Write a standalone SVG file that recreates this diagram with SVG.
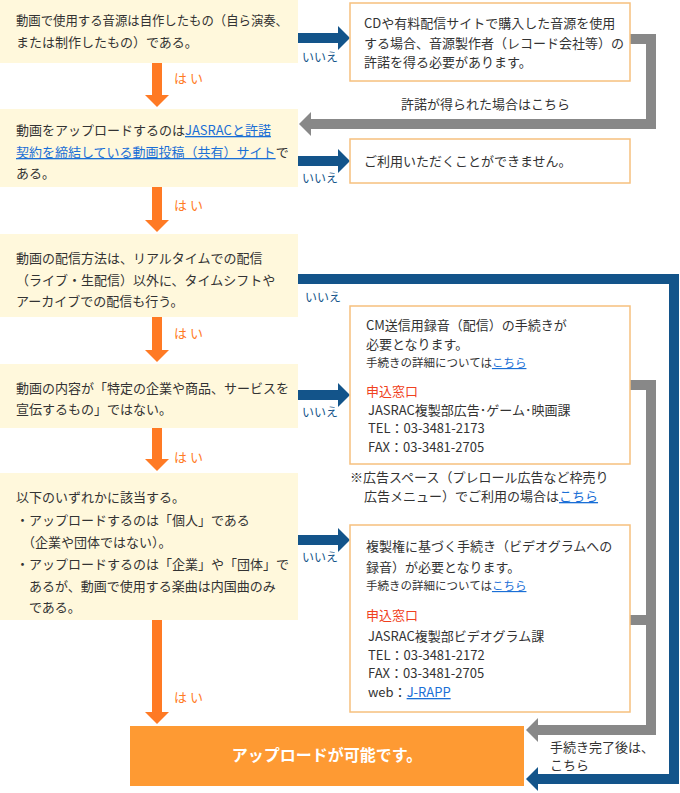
<svg xmlns="http://www.w3.org/2000/svg" width="680" height="793" viewBox="0 0 680 793">
<style>
.t{font-family:"Noto Sans CJK JP","Noto Sans",sans-serif;font-size:13px;fill:#333}
.s{font-size:11.5px}
.lk{fill:#1a6fd6;text-decoration:underline}
.red{fill:#f04020}
.yes{font-family:"Noto Sans CJK JP","Noto Sans",sans-serif;font-size:13px;fill:#ff7a24}
.no{font-family:"Noto Sans CJK JP","Noto Sans",sans-serif;font-size:12px;fill:#13548a}
.q{fill:#fff8dc}
.r{fill:#fff;stroke:#f6c07e;stroke-width:1.5}
.ao{fill:none;stroke:#ff7a24;stroke-width:10}
.an{fill:none;stroke:#13548a;stroke-width:10}
.ag{fill:none;stroke:#888;stroke-width:10}
</style>
<defs>
<marker id="ho" viewBox="0 0 12 24" markerWidth="12" markerHeight="24" refX="0" refY="12" orient="auto" markerUnits="userSpaceOnUse"><path d="M0,0 L12,12 L0,24 Z" fill="#ff7a24"/></marker>
<marker id="hn" viewBox="0 0 12 24" markerWidth="12" markerHeight="24" refX="0" refY="12" orient="auto" markerUnits="userSpaceOnUse"><path d="M0,0 L12,12 L0,24 Z" fill="#13548a"/></marker>
<marker id="hg" viewBox="0 0 12 24" markerWidth="12" markerHeight="24" refX="0" refY="12" orient="auto" markerUnits="userSpaceOnUse"><path d="M0,0 L12,12 L0,24 Z" fill="#888"/></marker>
</defs>

<g id="connectors">
<path class="ao" d="M157,63 V95" marker-end="url(#ho)"/>
<path class="ao" d="M157,187 V220" marker-end="url(#ho)"/>
<path class="ao" d="M157,317 V350" marker-end="url(#ho)"/>
<path class="ao" d="M157,428 V459" marker-end="url(#ho)"/>
<path class="ao" d="M157,620 V712" marker-end="url(#ho)"/>
<path class="an" d="M298,38 H338" marker-end="url(#hn)"/>
<path class="an" d="M298,161 H338" marker-end="url(#hn)"/>
<path class="an" d="M298,395 H338" marker-end="url(#hn)"/>
<path class="an" d="M298,540 H338" marker-end="url(#hn)"/>
<path class="an" d="M298,279 H674 V779 H538" marker-end="url(#hn)"/>
<path class="ag" d="M630,39 H651 V124 H311" marker-end="url(#hg)"/>
<path class="ag" d="M630,385 H651 V730 H538" marker-end="url(#hg)"/>
<path class="ag" d="M630,620 H651"/>
<text class="yes" x="174" y="83">は い</text>
<text class="yes" x="174" y="210">は い</text>
<text class="yes" x="174" y="338">は い</text>
<text class="yes" x="174" y="462">は い</text>
<text class="yes" x="174" y="702">は い</text>
<text class="no" x="302" y="62">いいえ</text>
<text class="no" x="302" y="183">いいえ</text>
<text class="no" x="305" y="302">いいえ</text>
<text class="no" x="302" y="417">いいえ</text>
<text class="no" x="302" y="562">いいえ</text>
<text class="t" x="401" y="109">許諾が得られた場合はこちら</text>
<text class="t" x="550" y="752">手続き完了後は、</text>
<text class="t" x="550" y="770">こちら</text>
</g>

<g id="q1">
<rect class="q" x="0" y="0" width="298" height="63"/>
<text class="t" x="16" y="25" textLength="272" lengthAdjust="spacingAndGlyphs">動画で使用する音源は自作したもの（自ら演奏、</text>
<text class="t" x="16" y="47">または制作したもの）である。</text>
</g>

<g id="q2">
<rect class="q" x="0" y="109" width="298" height="78"/>
<text class="t" x="16" y="135">動画をアップロードするのは<tspan class="lk">JASRACと許諾</tspan></text>
<text class="t" x="16" y="157"><tspan class="lk">契約を締結している動画投稿（共有）サイト</tspan>で</text>
<text class="t" x="16" y="178">ある。</text>
</g>

<g id="q3">
<rect class="q" x="0" y="234" width="298" height="83"/>
<text class="t" x="16" y="263">動画の配信方法は、リアルタイムでの配信</text>
<text class="t" x="16" y="285">（ライブ・生配信）以外に、タイムシフトや</text>
<text class="t" x="16" y="306">アーカイブでの配信も行う。</text>
</g>

<g id="q4">
<rect class="q" x="0" y="364" width="298" height="64"/>
<text class="t" x="16" y="393">動画の内容が「特定の企業や商品、サービスを</text>
<text class="t" x="16" y="414">宣伝するもの」ではない。</text>
</g>

<g id="q5">
<rect class="q" x="0" y="473" width="298" height="147"/>
<text class="t" x="16" y="502">以下のいずれかに該当する。</text>
<text class="t" x="16" y="525">・アップロードするのは「個人」である</text>
<text class="t" x="22" y="547">（企業や団体ではない）。</text>
<text class="t" x="16" y="569">・アップロードするのは「企業」や「団体」で</text>
<text class="t" x="29" y="591">あるが、動画で使用する楽曲は内国曲のみ</text>
<text class="t" x="29" y="612">である。</text>
</g>

<g id="r1">
<rect class="r" x="350" y="3" width="280" height="78"/>
<text class="t" x="364" y="28">CDや有料配信サイトで購入した音源を使用</text>
<text class="t" x="364" y="48">する場合、音源製作者（レコード会社等）の</text>
<text class="t" x="364" y="67">許諾を得る必要があります。</text>
</g>

<g id="r2">
<rect class="r" x="350" y="139" width="280" height="44"/>
<text class="t" x="364" y="166">ご利用いただくことができません。</text>
</g>

<g id="r3">
<rect class="r" x="350" y="306" width="280" height="158"/>
<text class="t" x="366" y="330">CM送信用録音（配信）の手続きが</text>
<text class="t" x="366" y="349">必要となります。</text>
<text class="t s" x="366" y="367">手続きの詳細については<tspan class="lk">こちら</tspan></text>
<text class="t red" x="366" y="396">申込窓口</text>
<text class="t" x="368" y="415">JASRAC複製部広告･ゲーム･映画課</text>
<text class="t" x="368" y="433">TEL：03-3481-2173</text>
<text class="t" x="368" y="452">FAX：03-3481-2705</text>
</g>

<g id="note">
<text class="t" x="350" y="482">※広告スペース（プレロール広告など枠売り</text>
<text class="t" x="364" y="501">広告メニュー）でご利用の場合は<tspan class="lk">こちら</tspan></text>
</g>

<g id="r4">
<rect class="r" x="350" y="525" width="280" height="187"/>
<text class="t" x="366" y="551">複製権に基づく手続き（ビデオグラムへの</text>
<text class="t" x="366" y="572">録音）が必要となります。</text>
<text class="t s" x="366" y="590">手続きの詳細については<tspan class="lk">こちら</tspan></text>
<text class="t red" x="366" y="620">申込窓口</text>
<text class="t" x="368" y="641">JASRAC複製部ビデオグラム課</text>
<text class="t" x="368" y="660">TEL：03-3481-2172</text>
<text class="t" x="368" y="678">FAX：03-3481-2705</text>
<text class="t" x="368" y="697">web：<tspan class="lk">J-RAPP</tspan></text>
</g>

<g id="result">
<rect x="130" y="726" width="394" height="60" fill="#fe9a33"/>
<text x="327" y="761" text-anchor="middle" font-family="Noto Sans CJK JP, Noto Sans, sans-serif" font-size="16" font-weight="bold" fill="#fff">アップロードが可能です。</text>
</g>
</svg>
